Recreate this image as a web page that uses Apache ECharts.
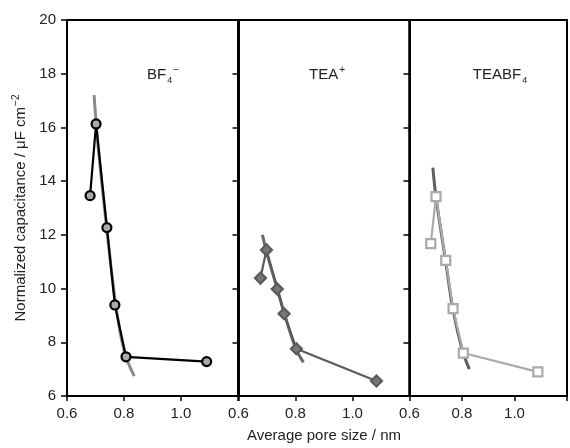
<!DOCTYPE html>
<html>
<head>
<meta charset="utf-8">
<script src="https://cdn.jsdelivr.net/npm/echarts@6/dist/echarts.min.js"></script>
<style>
  html, body { margin: 0; padding: 0; background: #fff; }
  #chart { width: 570px; height: 448px; }
</style>
</head>
<body>
<div id="chart"></div>
<script>
// measured points, [pore size nm, capacitance]
const bf4Data = [[0.681, 13.46], [0.702, 16.13], [0.740, 12.27], [0.768, 9.39], [0.807, 7.46], [1.090, 7.28]]
const bf4Fit = [[0.695, 17.2], [0.71, 15.2], [0.74, 12.2], [0.77, 9.5], [0.80, 7.7], [0.836, 6.74]]

const teaData = [[0.677, 10.39], [0.698, 11.44], [0.736, 9.98], [0.760, 9.06], [0.803, 7.76], [1.084, 6.56]]
const teaFit = [[0.684, 12.0], [0.70, 11.3], [0.736, 10.0], [0.76, 9.1], [0.80, 7.8], [0.828, 7.25]]

const teabf4Data = [[0.681, 11.67], [0.701, 13.42], [0.738, 11.05], [0.766, 9.25], [0.805, 7.60], [1.089, 6.90]]
const teabf4Fit = [[0.689, 14.5], [0.701, 13.4], [0.738, 11.0], [0.766, 9.2], [0.80, 7.75], [0.828, 7.0]]

const panelNames = ['{n|BF}{sub|4}{sup|\u2212}', '{n|TEA}{sup|+}', '{n|TEABF}{sub|4}']
const panelCenters = [158, 322, 495]

const chart = echarts.init(document.getElementById('chart'))
const font = 'Liberation Sans, Arial, sans-serif'
const lefts = [67, 238.5, 409.5]

const richText = {
  n: { fontSize: 15, fontFamily: font, color: '#222', fontWeight: 'normal', lineHeight: 20 },
  sub: { fontSize: 9, fontFamily: font, color: '#222', fontWeight: 'normal', lineHeight: 10, verticalAlign: 'bottom', padding: [0, 0, 0, 1] },
  sup: { fontSize: 10, fontFamily: font, color: '#222', fontWeight: 'normal', lineHeight: 10, verticalAlign: 'top', padding: [0, 0, 0, 1] }
}

const grids = lefts.map(l => ({
  left: l, top: 20, width: 171, height: 376,
  show: true, borderColor: '#000', borderWidth: 2, backgroundColor: 'transparent'
}))

const xAxes = lefts.map((l, i) => ({
  type: 'value', gridIndex: i, min: 0.6, max: 1.2, interval: 0.2,
  axisLine: { show: true, lineStyle: { color: '#000', width: 2 } },
  axisTick: { show: true, length: 5, lineStyle: { color: '#000', width: 1.5 } },
  axisLabel: {
    fontSize: 15, color: '#222', fontFamily: font, margin: 10,
    formatter: v => (v > 1.19 ? '' : v.toFixed(1))
  },
  splitLine: { show: false },
  name: i === 1 ? 'Average pore size / nm' : '',
  nameLocation: 'middle', nameGap: 32,
  nameTextStyle: { fontSize: 15, color: '#222', fontFamily: font }
}))

const yAxes = lefts.map((l, i) => ({
  type: 'value', gridIndex: i, min: 6, max: 20, interval: 2,
  axisLine: { show: true, lineStyle: { color: '#000', width: 2 } },
  axisTick: { show: true, length: 6, lineStyle: { color: '#000', width: 1.5 } },
  axisLabel: { show: i === 0, fontSize: 15, color: '#222', fontFamily: font, margin: 11 },
  splitLine: { show: false },
  name: i === 0 ? '{n|Normalized capacitance / \u03bcF cm}{sup|\u22122}' : '',
  nameLocation: 'middle', nameGap: 36,
  nameTextStyle: {
    rich: {
      n: { fontSize: 15, fontFamily: font, color: '#222', lineHeight: 20 },
      sup: { fontSize: 10, fontFamily: font, color: '#222', lineHeight: 10, verticalAlign: 'top', padding: [0, 0, 0, 1] }
    }
  }
}))

function dataSeries(idx, data, symbol, color, fill, size) {
  return {
    type: 'line', xAxisIndex: idx, yAxisIndex: idx, data: data,
    symbol: symbol, symbolSize: size, showSymbol: true,
    lineStyle: { color: color, width: 2.2 },
    itemStyle: { color: fill, borderColor: color, borderWidth: 2.2 },
    z: 3, animation: false
  }
}

function fitSeries(idx, data, color) {
  return {
    type: 'line', xAxisIndex: idx, yAxisIndex: idx, data: data,
    smooth: 0.4, symbol: 'none',
    lineStyle: { color: color, width: 3 },
    z: 2, animation: false
  }
}

chart.setOption({
  backgroundColor: '#fff',
  animation: false,
  grid: grids,
  xAxis: xAxes,
  yAxis: yAxes,
  title: panelNames.map((t, i) => ({
    text: t, left: panelCenters[i], top: 60, textAlign: 'center',
    textStyle: { rich: richText }
  })),
  series: [
    fitSeries(0, bf4Fit, '#8a8a8a'),
    dataSeries(0, bf4Data, 'circle', '#000', '#aaa', 9),
    fitSeries(1, teaFit, '#6a6a6a'),
    dataSeries(1, teaData, 'diamond', '#5a5a5a', '#777', 11),
    fitSeries(2, teabf4Fit, '#5e5e5e'),
    dataSeries(2, teabf4Data, 'rect', '#aaaaaa', '#fff', 9)
  ]
})
</script>
</body>
</html>
